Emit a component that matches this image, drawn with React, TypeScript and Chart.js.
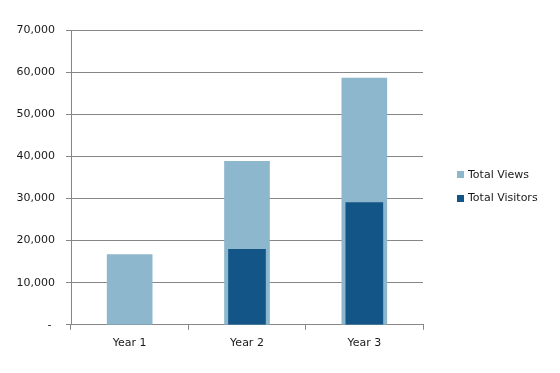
import React, { useEffect, useRef } from "react";
import { Chart, registerables } from "chart.js";

Chart.register(...registerables);

const categories = ["Year 1", "Year 2", "Year 3"];
const seriesNames = ["Total Views", "Total Visitors"];
const totalViews = [16700, 38800, 58600];
const totalVisitors = [null, 17900, 29000];
const yMax = 70000;
const yStep = 10000;

const LIGHT = "#8CB7CD";
const DARK = "#145587";
const GRID = "#868686";
const TEXT = "#1a1a1a";
const FONT = "'DejaVu Sans', Verdana, sans-serif";

const legendPlugin = {
  id: "customLegend",
  afterDraw(chart: any) {
    const ctx = chart.ctx;
    const area = chart.chartArea;
    const x = area.right + 34;
    const mid = (area.top + area.bottom) / 2;
    const ys = [mid - 2.5, mid + 21];
    ctx.save();
    ctx.font = `11px ${FONT}`;
    ctx.textBaseline = "middle";
    ctx.textAlign = "left";
    chart.data.datasets.forEach((ds: any, i: number) => {
      ctx.fillStyle = ds.backgroundColor;
      ctx.fillRect(x, Math.round(ys[i] - 3.5), 7, 7);
      ctx.fillStyle = TEXT;
      ctx.fillText(ds.label, x + 11, ys[i]);
    });
    ctx.restore();
  },
};

export default function App() {
  const ref = useRef<HTMLCanvasElement | null>(null);
  useEffect(() => {
    document.body.style.margin = "0";
    const canvas = ref.current;
    if (!canvas) return;
    const chart = new Chart(canvas, {
      type: "bar",
      data: {
        labels: categories,
        datasets: [
          {
            label: seriesNames[0],
            data: totalViews,
            backgroundColor: LIGHT,
            borderWidth: 0,
            barThickness: 45,
            order: 2,
          },
          {
            label: seriesNames[1],
            data: totalVisitors as any,
            backgroundColor: DARK,
            borderWidth: 0,
            barThickness: 37,
            order: 1,
          },
        ],
      },
      options: {
        responsive: false,
        animation: false,
        layout: { padding: { left: 0, right: 137, top: 30, bottom: 16 } },
        plugins: {
          legend: { display: false },
          tooltip: { enabled: false },
        },
        datasets: { bar: { grouped: false } } as any,
        scales: {
          x: {
            grid: {
              offset: true,
              drawOnChartArea: false,
              drawTicks: true,
              tickLength: 5,
              color: GRID,
            },
            border: { color: GRID },
            ticks: {
              color: TEXT,
              font: { family: FONT, size: 11 },
              padding: 7,
              maxRotation: 0,
            },
          },
          y: {
            min: 0,
            max: yMax,
            afterFit: (scale: any) => {
              scale.width = 71;
            },
            grid: { color: GRID, tickLength: 5 },
            border: { color: GRID },
            ticks: {
              stepSize: yStep,
              color: TEXT,
              font: { family: FONT, size: 11 },
              padding: 11,
              callback: (v: any) => (Number(v) === 0 ? "- " : Number(v).toLocaleString("en-US")),
            },
          },
        },
      },
      plugins: [legendPlugin],
    });
    return () => chart.destroy();
  }, []);
  return (
    <div style={{ width: 560, height: 373 }}>
      <canvas ref={ref} width={560} height={373} style={{ display: "block" }} />
    </div>
  );
}
